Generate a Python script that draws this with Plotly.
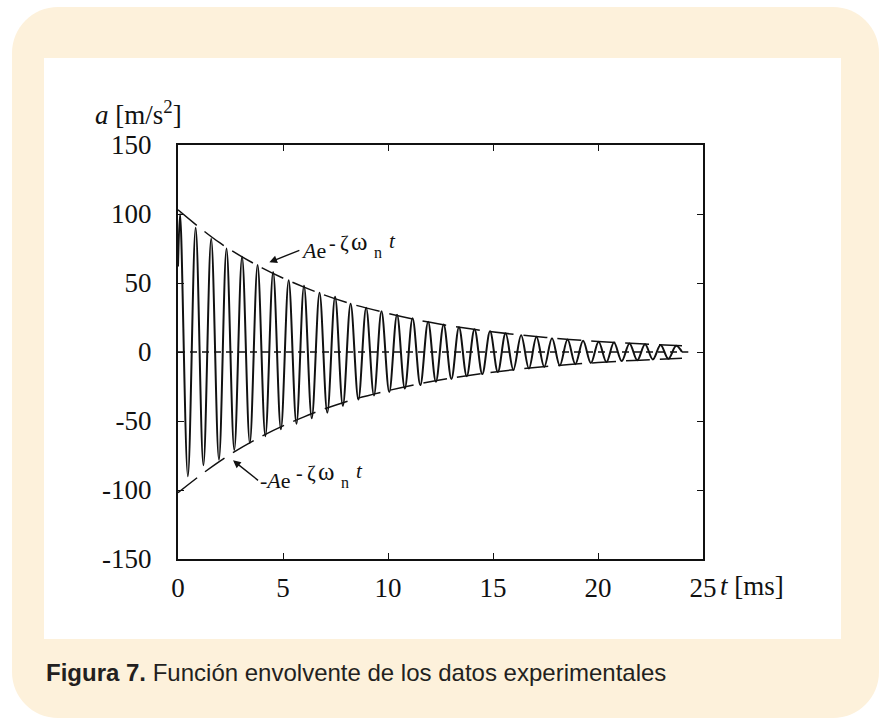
import plotly.graph_objects as go

# ---------------------------------------------------------------------------
# Data: damped acceleration record (time in ms, acceleration in m/s^2)
# ---------------------------------------------------------------------------
t_start, a_start = 0.0, 62.0

t_peak = [0.10, 0.84, 1.58, 2.31, 3.05, 3.79, 4.53, 5.27, 6.00, 6.74, 7.48,
          8.22, 8.96, 9.69, 10.43, 11.17, 11.91, 12.65, 13.38, 14.12, 14.86,
          15.60, 16.34, 17.07, 17.81, 18.55, 19.29, 20.03, 20.76, 21.50,
          22.24, 22.98, 23.72]
a_peak = [100, 90, 82, 75, 69, 63, 58, 52, 48, 43, 40,
          35, 32, 29.5, 27, 24.5, 22, 20, 18, 16.5, 15,
          13.5, 12.2, 11, 10, 9, 8.2, 7.5, 6.8, 6.2,
          5.6, 5.0, 4.5]

t_trough = [0.47, 1.21, 1.95, 2.68, 3.42, 4.16, 4.90, 5.64, 6.37, 7.11, 7.85,
            8.59, 9.33, 10.06, 10.80, 11.54, 12.28, 13.02, 13.75, 14.49,
            15.23, 15.97, 16.71, 17.44, 18.18, 18.92, 19.66, 20.40, 21.13,
            21.87, 22.61, 23.35]
a_trough = [-90, -82, -78, -71, -66, -61, -56, -52, -48, -44, -39,
            -34.5, -31.5, -29, -26.5, -24, -21.5, -19.5, -17.5, -16,
            -14.5, -13, -12, -10.8, -9.8, -8.8, -8, -7.3, -6.6,
            -6, -5.4, -4.9]

t_end, a_end = 24.0, 0.0

# Envelope +/- A e^(-zeta wn t), read at 2 ms steps
env_t = [0, 2, 4, 6, 8, 10, 12, 14, 16, 18, 20, 22, 24]
env_upper = [103, 79, 61, 47, 36, 28, 21.5, 16.6, 12.8, 9.9, 7.6, 5.9, 4.5]
env_lower = [-102, -79, -61, -47, -36, -28, -21.5, -16.6, -12.8, -9.9, -7.6, -5.9, -4.5]

# points on the envelopes that the labels point to
label_tip_t = [4.35, 2.62]
label_tip_a = [65.0, -78.5]

zero_t = [0, 24.3]
zero_a = [0, 0]

x_ticks = [0, 5, 10, 15, 20, 25]
x_ticklabels = ["0", "5", "10", "15", "20", "25"]
y_ticks = [-150, -100, -50, 0, 50, 100, 150]
y_ticklabels = ["-150", "-100", "-50", "0", "50", "100", "150"]

# ---------------------------------------------------------------------------
# Page geometry in pixels
# ---------------------------------------------------------------------------
W, H = 880, 719
PL, PR, PT, PB = 178, 703, 145, 559   # plot area box

def fx(px):
    return (px - PL) / (PR - PL)

def fy(py):
    return (PB - py) / (PB - PT)

def rounded_rect(x0, y0, x1, y1, r):
    k = 0.5523 * r
    pts = [
        ("M", [(x0 + r, y0)]),
        ("L", [(x1 - r, y0)]),
        ("C", [(x1 - r + k, y0), (x1, y0 + r - k), (x1, y0 + r)]),
        ("L", [(x1, y1 - r)]),
        ("C", [(x1, y1 - r + k), (x1 - r + k, y1), (x1 - r, y1)]),
        ("L", [(x0 + r, y1)]),
        ("C", [(x0 + r - k, y1), (x0, y1 - r + k), (x0, y1 - r)]),
        ("L", [(x0, y0 + r)]),
        ("C", [(x0, y0 + r - k), (x0 + r - k, y0), (x0 + r, y0)]),
    ]
    out = []
    for cmd, ps in pts:
        out.append(cmd + " " + " ".join(f"{fx(a):.5f},{fy(b):.5f}" for a, b in ps))
    return " ".join(out) + " Z"

# assemble the oscillation from its extrema
events = [(t_start, a_start)] + list(zip(t_peak, a_peak)) + list(zip(t_trough, a_trough)) + [(t_end, a_end)]
events.sort(key=lambda p: p[0])
wave_t = [p[0] for p in events]
wave_a = [p[1] for p in events]

INK = "#111111"
SERIF = "Liberation Serif"

fig = go.Figure()

fig.add_trace(go.Scatter(x=zero_t, y=zero_a, mode="lines",
                         line=dict(color=INK, width=1.3, dash="7px,5px"),
                         hoverinfo="skip", showlegend=False))
fig.add_trace(go.Scatter(x=env_t, y=env_upper, mode="lines", line_shape="spline",
                         line=dict(color=INK, width=1.5, dash="24px,10px"),
                         hoverinfo="skip", showlegend=False))
fig.add_trace(go.Scatter(x=env_t, y=env_lower, mode="lines", line_shape="spline",
                         line=dict(color=INK, width=1.5, dash="24px,10px"),
                         hoverinfo="skip", showlegend=False))
fig.add_trace(go.Scatter(x=wave_t, y=wave_a, mode="lines", line_shape="spline",
                         line=dict(color=INK, width=2.0),
                         hoverinfo="skip", showlegend=False))

shapes = [
    dict(type="path", xref="paper", yref="paper", layer="below",
         path=rounded_rect(12, 7, 879, 718, 46),
         fillcolor="#fdf1db", line=dict(width=0)),
    dict(type="rect", xref="paper", yref="paper", layer="below",
         x0=fx(44), x1=fx(841), y0=fy(639), y1=fy(58),
         fillcolor="#ffffff", line=dict(width=0)),
]

annotations = []

def txt(text, x_left, baseline, size, family=SERIF, color=INK):
    annotations.append(dict(
        text=text, xref="paper", yref="paper", x=fx(x_left), y=fy(baseline - 0.34 * size),
        xanchor="left", yanchor="middle", showarrow=False,
        font=dict(family=family, size=size, color=color)))

# axis titles
txt("<i>a</i> [m/s<sup>2</sup>]", 93, 122, 27)
txt("<i>t</i> [ms]", 718, 595, 27)

# leading part of each envelope label, with its arrow to the curve
for text, tip_t, tip_a, dx, dy in [("<i>A</i>e", label_tip_t[0], label_tip_a[0], 30, -12),
                                   ("-<i>A</i>e", label_tip_t[1], label_tip_a[1], 25, 20)]:
    annotations.append(dict(
        x=tip_t, y=tip_a, xref="x", yref="y", ax=dx, ay=dy, text=text,
        xanchor="left", yanchor="middle",
        font=dict(family=SERIF, size=22, color=INK),
        showarrow=True, arrowhead=2, arrowsize=1.1, arrowwidth=1.4, arrowcolor=INK,
        standoff=0, startstandoff=0))

# exponent parts:  -zeta w_n t
txt("-", 327, 250, 20)
txt("ζ", 338, 250, 21)
txt("ω", 349, 250, 25)
txt("n", 372, 258, 16)
txt("<i>t</i>", 387, 248, 21)

txt("-", 294, 480, 20)
txt("ζ", 305, 480, 21)
txt("ω", 316, 480, 25)
txt("n", 339, 488, 16)
txt("<i>t</i>", 354, 478, 21)

# caption
annotations.append(dict(
    text="<b>Figura 7.</b> Función envolvente de los datos experimentales",
    xref="paper", yref="paper", x=fx(44), y=fy(672), xanchor="left", yanchor="middle",
    showarrow=False, font=dict(family="Liberation Sans", size=24, color="#231f20")))

axis_common = dict(
    showline=True, linewidth=2, linecolor=INK, mirror="ticks",
    ticks="inside", ticklen=6, tickwidth=1.3, tickcolor=INK,
    showgrid=False, zeroline=False,
    tickfont=dict(family=SERIF, size=27, color=INK),
)

fig.update_layout(
    width=W, height=H,
    margin=dict(l=PL, r=W - PR, t=PT, b=H - PB, pad=0),
    paper_bgcolor="#ffffff", plot_bgcolor="rgba(0,0,0,0)",
    xaxis=dict(range=[0, 25], tickmode="array", tickvals=x_ticks, ticktext=x_ticklabels,
               ticklabelstandoff=4, **axis_common),
    yaxis=dict(range=[-150, 150], tickmode="array", tickvals=y_ticks, ticktext=y_ticklabels,
               ticklabelstandoff=19, **axis_common),
    shapes=shapes, annotations=annotations, showlegend=False,
)

fig.write_html("out.html")
